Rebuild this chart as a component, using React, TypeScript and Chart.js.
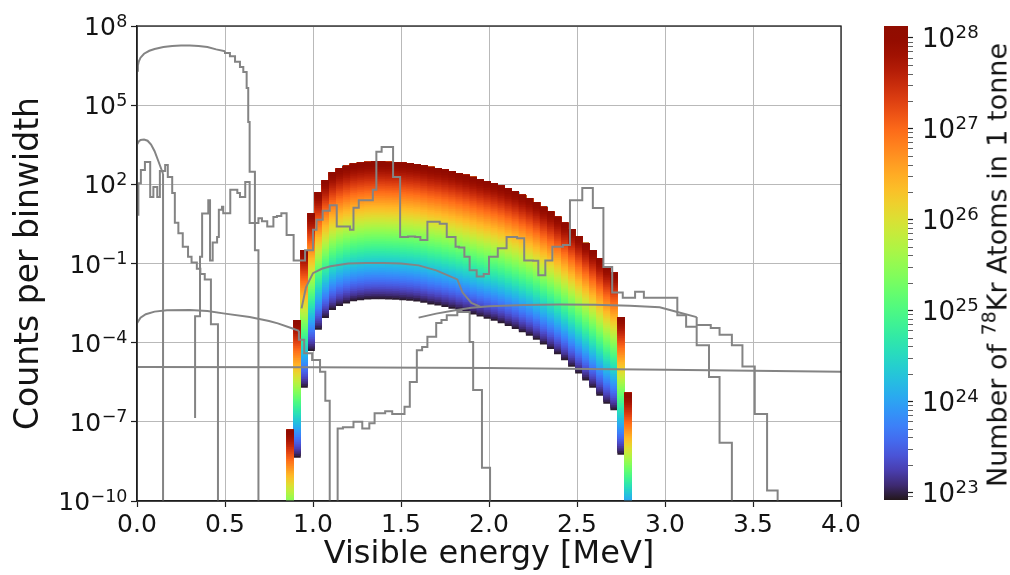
import React, { useEffect, useRef } from "react";
import { Chart, registerables } from "chart.js";
Chart.register(...registerables);

const FONT = "'DejaVu Sans', 'Liberation Sans', sans-serif";

// ---------------- axes / ticks ----------------
const xTickValues = [0, 0.5, 1.0, 1.5, 2.0, 2.5, 3.0, 3.5, 4.0];
const yTickExponents = [-10, -7, -4, -1, 2, 5, 8];
const colorbarTickExponents = [23, 24, 25, 26, 27, 28];
const colorbarMin = 8.3e22;
const colorbarMax = 1.35e28;

// ---------------- 78Kr spectrum (counts per binwidth at colorbarMax atoms) ----------------
const krBinEdges = [
  0.85, 0.89, 0.93, 0.97, 1.01, 1.05, 1.09, 1.13, 1.17, 1.21, 1.25, 1.29, 1.33, 1.37, 1.41, 1.45, 1.49,
  1.53, 1.57, 1.61, 1.65, 1.69, 1.73, 1.77, 1.81, 1.85, 1.89, 1.93, 1.97, 2.01, 2.05, 2.09, 2.13, 2.17,
  2.21, 2.25, 2.29, 2.33, 2.37, 2.41, 2.45, 2.49, 2.53, 2.57, 2.61, 2.65, 2.69, 2.73, 2.77, 2.81,
];
const krCountsAtMax = [
  5.0e-8, 7.1e-4, 0.32, 7.9, 50, 141, 282, 398, 501, 603, 661, 708, 724, 724, 708, 692, 661, 631, 589,
  525, 457, 417, 363, 316, 269, 229, 191, 158, 132, 110, 89, 69, 54, 40, 30, 21, 14, 9.3, 5.9, 3.5, 2.0,
  1.1, 0.6, 0.32, 0.16, 0.079, 0.045, 9.3e-4, 1.26e-6,
];

// ---------------- background curves (grey), [energy MeV, counts per binwidth] ----------------
const bgA_smooth: [number, number][] = [
  [0, 2.0e6], [0.005, 3.2e6], [0.01, 4.5e6], [0.02, 6.3e6], [0.04, 8.9e6], [0.07, 1.15e7], [0.1, 1.35e7],
  [0.15, 1.6e7], [0.2, 1.74e7], [0.25, 1.82e7], [0.3, 1.82e7], [0.35, 1.74e7], [0.4, 1.6e7], [0.45, 1.3e7],
  [0.5, 1.1e7],
];
const bgA_steps: [number, number][] = [
  [0.5, 1.1e7], [0.528, 9.5e6], [0.557, 7.1e6], [0.585, 4.4e6], [0.604, 2.8e6], [0.623, 1.8e6],
  [0.632, 4.5e5], [0.64, 2.3e4], [0.67, 3.0e2], [0.69, 0.32], [0.727, 1e-13],
];
const bgB_smooth: [number, number][] = [
  [0, 3.2e3], [0.01, 4.2e3], [0.02, 4.8e3], [0.04, 5.0e3], [0.06, 4.5e3], [0.08, 3.2e3], [0.1, 1.8e3],
  [0.12, 8.0e2], [0.14, 3.5e2], [0.148, 2.5e2],
];
const bgB_steps: [number, number][] = [[0.148, 2.5e2], [0.148, 1.6e-4], [0.168, 1e-13]];
const bgC_steps: [number, number][] = [
  [0, 1.8e4], [0.008, 7], [0.022, 110], [0.045, 350], [0.075, 700], [0.093, 33], [0.115, 80], [0.13, 33],
  [0.16, 320], [0.175, 540], [0.2, 190], [0.215, 47], [0.235, 3.5], [0.26, 1.4], [0.29, 0.43], [0.31, 0.18],
  [0.34, 0.11], [0.36, 0.063], [0.385, 0.04], [0.42, 0.025], [0.46, 5e-4], [0.483, 1e-13],
];
const bgD_steps: [number, number][] = [
  [0.33, 1.4e-7], [0.358, 1e-3], [0.37, 0.18], [0.405, 7.9], [0.415, 25], [0.43, 0.13], [0.455, 0.63],
  [0.465, 1.0], [0.483, 11], [0.49, 14], [0.53, 8.1], [0.57, 62], [0.585, 47], [0.615, 33], [0.64, 123],
  [0.69, 3.4], [0.71, 5.2], [0.74, 4.0], [0.775, 2.5], [0.795, 5.8], [0.82, 6.3], [0.85, 8.1], [0.89, 1.2],
  [0.955, 0.13], [1.0, 0.32], [1.02, 1.9], [1.055, 4.5], [1.095, 10], [1.135, 16], [1.21, 2.5], [1.23, 1.9],
  [1.26, 13], [1.34, 25], [1.36, 62], [1.39, 1.7e3], [1.455, 2.6e3], [1.495, 190], [1.54, 1.0], [1.58, 1.05],
  [1.61, 1.0], [1.65, 0.78], [1.72, 3.8], [1.76, 3.2], [1.81, 1.0], [1.83, 0.43], [1.86, 0.4], [1.89, 0.18],
  [1.93, 0.056], [1.97, 0.032], [2.0, 0.04], [2.05, 0.18], [2.1, 0.38], [2.16, 1.0], [2.2, 0.9], [2.25, 0.13],
  [2.28, 0.126], [2.32, 0.036], [2.36, 0.13], [2.42, 0.43], [2.46, 0.5], [2.53, 25], [2.59, 72], [2.65, 12.6],
  [2.7, 0.074], [2.76, 7.9e-3], [2.83, 5e-3], [2.88, 8.5e-3], [3.07, 5e-3], [3.12, 1.1e-3], [3.18, 4e-4],
  [3.25, 7.9e-5], [3.31, 5e-6], [3.38, 1.6e-8], [3.44, 1e-13],
];
const bgS0_smooth: [number, number][] = [
  [0, 5.4e-4], [0.02, 8.9e-4], [0.05, 1.2e-3], [0.1, 1.5e-3], [0.17, 1.7e-3], [0.3, 1.74e-3], [0.4, 1.6e-3],
  [0.5, 1.26e-3], [0.64, 9.3e-4], [0.75, 6.6e-4], [0.8, 5.4e-4], [0.88, 3.5e-4], [0.92, 2.8e-4],
];
const bgS0_steps: [number, number][] = [
  [0.92, 2.8e-4], [0.95, 1.3e-4], [0.995, 4e-5], [1.04, 2.2e-5], [1.07, 7.9e-6], [1.095, 6.3e-7], [1.115, 1e-13],
];
const bgFlat: [number, number][] = [[0, 1.2e-5], [1, 1.17e-5], [2, 1.1e-5], [3, 9.5e-6], [4, 7.9e-6]];
const bgS1_smooth: [number, number][] = [
  [0.935, 2e-3], [0.96, 1.26e-2], [1.0, 4.3e-2], [1.05, 6.3e-2], [1.1, 7.9e-2], [1.2, 0.1], [1.3, 0.105],
  [1.4, 0.105], [1.5, 0.1], [1.6, 0.085], [1.7, 0.055], [1.82, 0.025], [1.85, 7.9e-3], [1.9, 3.2e-3],
  [1.95, 2.3e-3],
];
const bgS2_smooth: [number, number][] = [
  [1.6, 8.9e-4], [1.7, 1.26e-3], [1.8, 1.66e-3], [1.9, 2.1e-3], [2.0, 2.4e-3], [2.2, 2.7e-3], [2.4, 2.8e-3],
  [2.6, 2.75e-3], [2.8, 2.5e-3], [2.97, 2.2e-3], [3.07, 1.45e-3], [3.18, 9.3e-4],
];
const bgS2_steps: [number, number][] = [
  [3.18, 9.3e-4], [3.18, 6.3e-4], [3.26, 4.7e-4], [3.31, 3.6e-4], [3.38, 2e-4], [3.44, 7.9e-5],
  [3.51, 1.26e-5], [3.58, 2e-7], [3.64, 2.5e-10], [3.71, 1e-13],
];
const bgG_steps: [number, number][] = [
  [1.14, 1e-13], [1.14, 1e-8], [1.17, 5.6e-8], [1.23, 6.3e-8], [1.28, 1e-7], [1.32, 5.6e-8], [1.35, 8.9e-8],
  [1.41, 2.1e-7], [1.45, 2.5e-7], [1.52, 2e-7], [1.55, 3.7e-7], [1.59, 3.2e-6], [1.62, 5.2e-5], [1.65, 6.9e-5],
  [1.7, 1.66e-4], [1.73, 5.6e-4], [1.76, 7.2e-4], [1.82, 1.1e-3], [1.89, 1.45e-3], [1.91, 1.07e-4],
  [1.96, 1.6e-6], [2.006, 1.8e-9], [2.05, 1e-13],
];

// ---------------- helpers ----------------
function turbo(t: number): [number, number, number] {
  const x = Math.min(1, Math.max(0, t));
  const r = 0.13572138 + x * (4.6153926 + x * (-42.66032258 + x * (132.13108234 + x * (-152.94239396 + x * 59.28637943))));
  const g = 0.09140261 + x * (2.19418839 + x * (4.84296658 + x * (-14.18503333 + x * (4.27729857 + x * 2.82956604))));
  const b = 0.1066733 + x * (12.64194608 + x * (-60.58204836 + x * (110.36276771 + x * (-89.90310912 + x * 27.34824973))));
  const c = (v: number) => Math.round(255 * Math.min(1, Math.max(0, v)));
  return [c(r), c(g), c(b)];
}
const turboCss = (t: number) => {
  const [r, g, b] = turbo(t);
  return `rgb(${r},${g},${b})`;
};

const GREY = "#848484";
const AXIS = "#1e1e1e";
const GRID = "#b9b9b9";
const TEXT = "#141414";
const N_BANDS = 80;

// draws "10" with a raised exponent, like matplotlib's mathtext tick labels
function drawPowLabel(ctx: CanvasRenderingContext2D, xAnchor: number, y: number, e: number, align: "left" | "right", size: number) {
  const base = "10";
  const exp = String(e).replace("-", "\u2212");
  const small = size * 0.7;
  ctx.save();
  ctx.fillStyle = TEXT;
  ctx.textAlign = "left";
  ctx.textBaseline = "alphabetic";
  ctx.font = `${size}px ${FONT}`;
  const w1 = ctx.measureText(base).width;
  ctx.font = `${small}px ${FONT}`;
  const w2 = ctx.measureText(exp).width;
  const x0 = align === "right" ? xAnchor - w1 - w2 : xAnchor;
  ctx.font = `${size}px ${FONT}`;
  ctx.fillText(base, x0, y + size * 0.365);
  ctx.font = `${small}px ${FONT}`;
  ctx.fillText(exp, x0 + w1 + 0.5, y + 0.5);
  ctx.restore();
}

function lineDs(points: [number, number][], stepped: boolean) {
  return {
    type: "line" as const,
    data: points.map(([x, y]) => ({ x, y })),
    borderColor: GREY,
    borderWidth: 2,
    pointRadius: 0,
    stepped: stepped ? ("after" as const) : false,
    tension: 0,
    fill: false,
    order: 0,
  };
}

function buildMainDatasets() {
  const ds: any[] = [];
  ds.push(lineDs(bgA_smooth, false), lineDs(bgA_steps, true));
  ds.push(lineDs(bgB_smooth, false), lineDs(bgB_steps, true));
  ds.push(lineDs(bgC_steps, true), lineDs(bgD_steps, true));
  ds.push(lineDs(bgS0_smooth, false), lineDs(bgS0_steps, true));
  ds.push(lineDs(bgFlat, false));
  ds.push(lineDs(bgS1_smooth, false));
  ds.push(lineDs(bgS2_smooth, false), lineDs(bgS2_steps, true));
  ds.push(lineDs(bgG_steps, true));

  const logMin = Math.log10(colorbarMin);
  const logMax = Math.log10(colorbarMax);
  const centers = krCountsAtMax.map((_, i) => (krBinEdges[i] + krBinEdges[i + 1]) / 2);
  for (let k = 0; k < N_BANDS; k++) {
    const logN = logMin + ((logMax - logMin) * k) / N_BANDS;
    const factor = Math.pow(10, logN - logMax);
    ds.push({
      type: "bar",
      data: krCountsAtMax.map((c, i) => ({ x: centers[i], y: [c * factor, c] })),
      backgroundColor: turboCss((k + 0.5) / N_BANDS),
      borderWidth: 0,
      grouped: false,
      barPercentage: 1.03,
      categoryPercentage: 1,
      order: 1 + (N_BANDS - 1 - k),
    });
  }
  return ds;
}

const mainDecorPlugin = {
  id: "mainDecor",
  afterDatasetsDraw(chart: any) {
    const { ctx, chartArea: a } = chart;
    ctx.save();
    ctx.strokeStyle = AXIS;
    ctx.lineWidth = 1.3;
    ctx.strokeRect(a.left, a.top, a.right - a.left, a.bottom - a.top);
    ctx.restore();
  },
  afterDraw(chart: any) {
    const ys = chart.scales.y;
    for (const e of yTickExponents) {
      drawPowLabel(chart.ctx, 127, ys.getPixelForValue(Math.pow(10, e)), e, "right", 25);
    }
  },
};

const cbDecorPlugin = {
  id: "cbDecor",
  afterDraw(chart: any) {
    const ys = chart.scales.y;
    const right = chart.chartArea.right;
    for (const e of colorbarTickExponents) {
      drawPowLabel(chart.ctx, right + 14, ys.getPixelForValue(Math.pow(10, e)), e, "left", 26);
    }
  },
};

export default function App() {
  const mainRef = useRef<HTMLCanvasElement>(null);
  const cbRef = useRef<HTMLCanvasElement>(null);

  useEffect(() => {
    Chart.defaults.font.family = FONT;
    Chart.defaults.color = TEXT;

    const main = new Chart(mainRef.current!, {
      type: "bar",
      data: { datasets: buildMainDatasets() },
      plugins: [mainDecorPlugin],
      options: {
        animation: false,
        responsive: false,
        events: [],
        layout: { padding: { left: 0, right: 29, top: 26, bottom: 0 } },
        plugins: { legend: { display: false }, tooltip: { enabled: false } },
        scales: {
          x: {
            type: "linear",
            min: 0,
            max: 4,
            offset: false,
            afterBuildTicks: (s: any) => {
              s.ticks = xTickValues.map((v) => ({ value: v }));
            },
            afterFit: (s: any) => {
              s.height = 74;
            },
            ticks: {
              font: { size: 25 },
              color: TEXT,
              padding: 3,
              autoSkip: false,
              maxRotation: 0,
              callback: (v: any) => Number(v).toFixed(1),
            },
            grid: { color: GRID, lineWidth: 1, tickLength: 6, tickColor: AXIS, tickWidth: 1.2, offset: false },
            border: { color: AXIS, width: 1.3 },
            title: {
              display: true,
              text: "Visible energy [MeV]",
              font: { size: 32 },
              color: TEXT,
              padding: { top: 0, bottom: 1 },
            },
          },
          y: {
            type: "logarithmic",
            min: 1e-10,
            max: 1e8,
            afterBuildTicks: (s: any) => {
              s.ticks = yTickExponents.map((e) => ({ value: Math.pow(10, e) }));
            },
            afterFit: (s: any) => {
              s.width = 137;
            },
            ticks: {
              font: { size: 25 },
              color: TEXT,
              padding: 4,
              autoSkip: false,
              callback: () => "",
            },
            grid: { color: GRID, lineWidth: 1, tickLength: 6, tickColor: AXIS, tickWidth: 1.2 },
            border: { color: AXIS, width: 1.3 },
            title: {
              display: true,
              text: "Counts per binwidth",
              font: { size: 33 },
              color: TEXT,
              padding: { top: 10, bottom: 0 },
            },
          },
        },
      } as any,
    });

    const cbTicks: number[] = [];
    for (let e = 22; e <= 28; e++) {
      for (let m = 1; m <= 9; m++) {
        const v = m * Math.pow(10, e);
        if (v >= colorbarMin && v <= colorbarMax) cbTicks.push(v);
      }
    }
    const isMajor = (v: number) => colorbarTickExponents.some((e) => Math.abs(v / Math.pow(10, e) - 1) < 1e-6);

    const cb = new Chart(cbRef.current!, {
      type: "bar",
      data: {
        labels: ["N"],
        datasets: [
          {
            data: [[colorbarMin, colorbarMax]] as any,
            borderWidth: 0,
            barPercentage: 1,
            categoryPercentage: 1,
            backgroundColor: (ctx: any) => {
              const chart = ctx.chart;
              const a = chart.chartArea;
              if (!a) return "#000";
              const g = chart.ctx.createLinearGradient(0, a.bottom, 0, a.top);
              for (let i = 0; i <= 32; i++) g.addColorStop(i / 32, turboCss(i / 32));
              return g;
            },
          },
        ],
      },
      plugins: [cbDecorPlugin],
      options: {
        animation: false,
        responsive: false,
        events: [],
        layout: { padding: { left: 24, right: 0, top: 26, bottom: 75 } },
        plugins: { legend: { display: false }, tooltip: { enabled: false } },
        scales: {
          x: { display: false },
          y: {
            type: "logarithmic",
            position: "right",
            min: colorbarMin,
            max: colorbarMax,
            afterBuildTicks: (s: any) => {
              s.ticks = cbTicks.map((v) => ({ value: v }));
            },
            afterFit: (s: any) => {
              s.width = 102;
            },
            ticks: {
              font: { size: 25 },
              color: TEXT,
              padding: 6,
              autoSkip: false,
              callback: () => "",
            },
            grid: {
              drawOnChartArea: false,
              tickLength: 5,
              tickColor: AXIS,
              tickWidth: (c: any) => (c.tick && isMajor(c.tick.value) ? 1.2 : 0.7),
            },
            border: { display: false },
          },
        },
      } as any,
    });

    return () => {
      main.destroy();
      cb.destroy();
    };
  }, []);

  return (
    <div
      style={{
        position: "fixed",
        left: 0,
        top: 0,
        width: 1010,
        height: 575,
        background: "#fff",
        overflow: "hidden",
      }}
    >
      <canvas
        ref={mainRef}
        width={870}
        height={575}
        style={{ position: "absolute", left: 0, top: 0, width: 870, height: 575 }}
      />
      <canvas
        ref={cbRef}
        width={150}
        height={575}
        style={{ position: "absolute", left: 860, top: 0, width: 150, height: 575 }}
      />
      <div
        style={{
          position: "absolute",
          left: 997,
          top: 265,
          transform: "translate(-50%, -50%) rotate(-90deg)",
          whiteSpace: "nowrap",
          fontFamily: FONT,
          fontSize: 27,
          color: TEXT,
          lineHeight: 1,
        }}
      >
        Number of{" "}
        <span style={{ fontSize: "0.7em", position: "relative", top: "-0.6em" }}>78</span>
        Kr Atoms in 1 tonne
      </div>
    </div>
  );
}
